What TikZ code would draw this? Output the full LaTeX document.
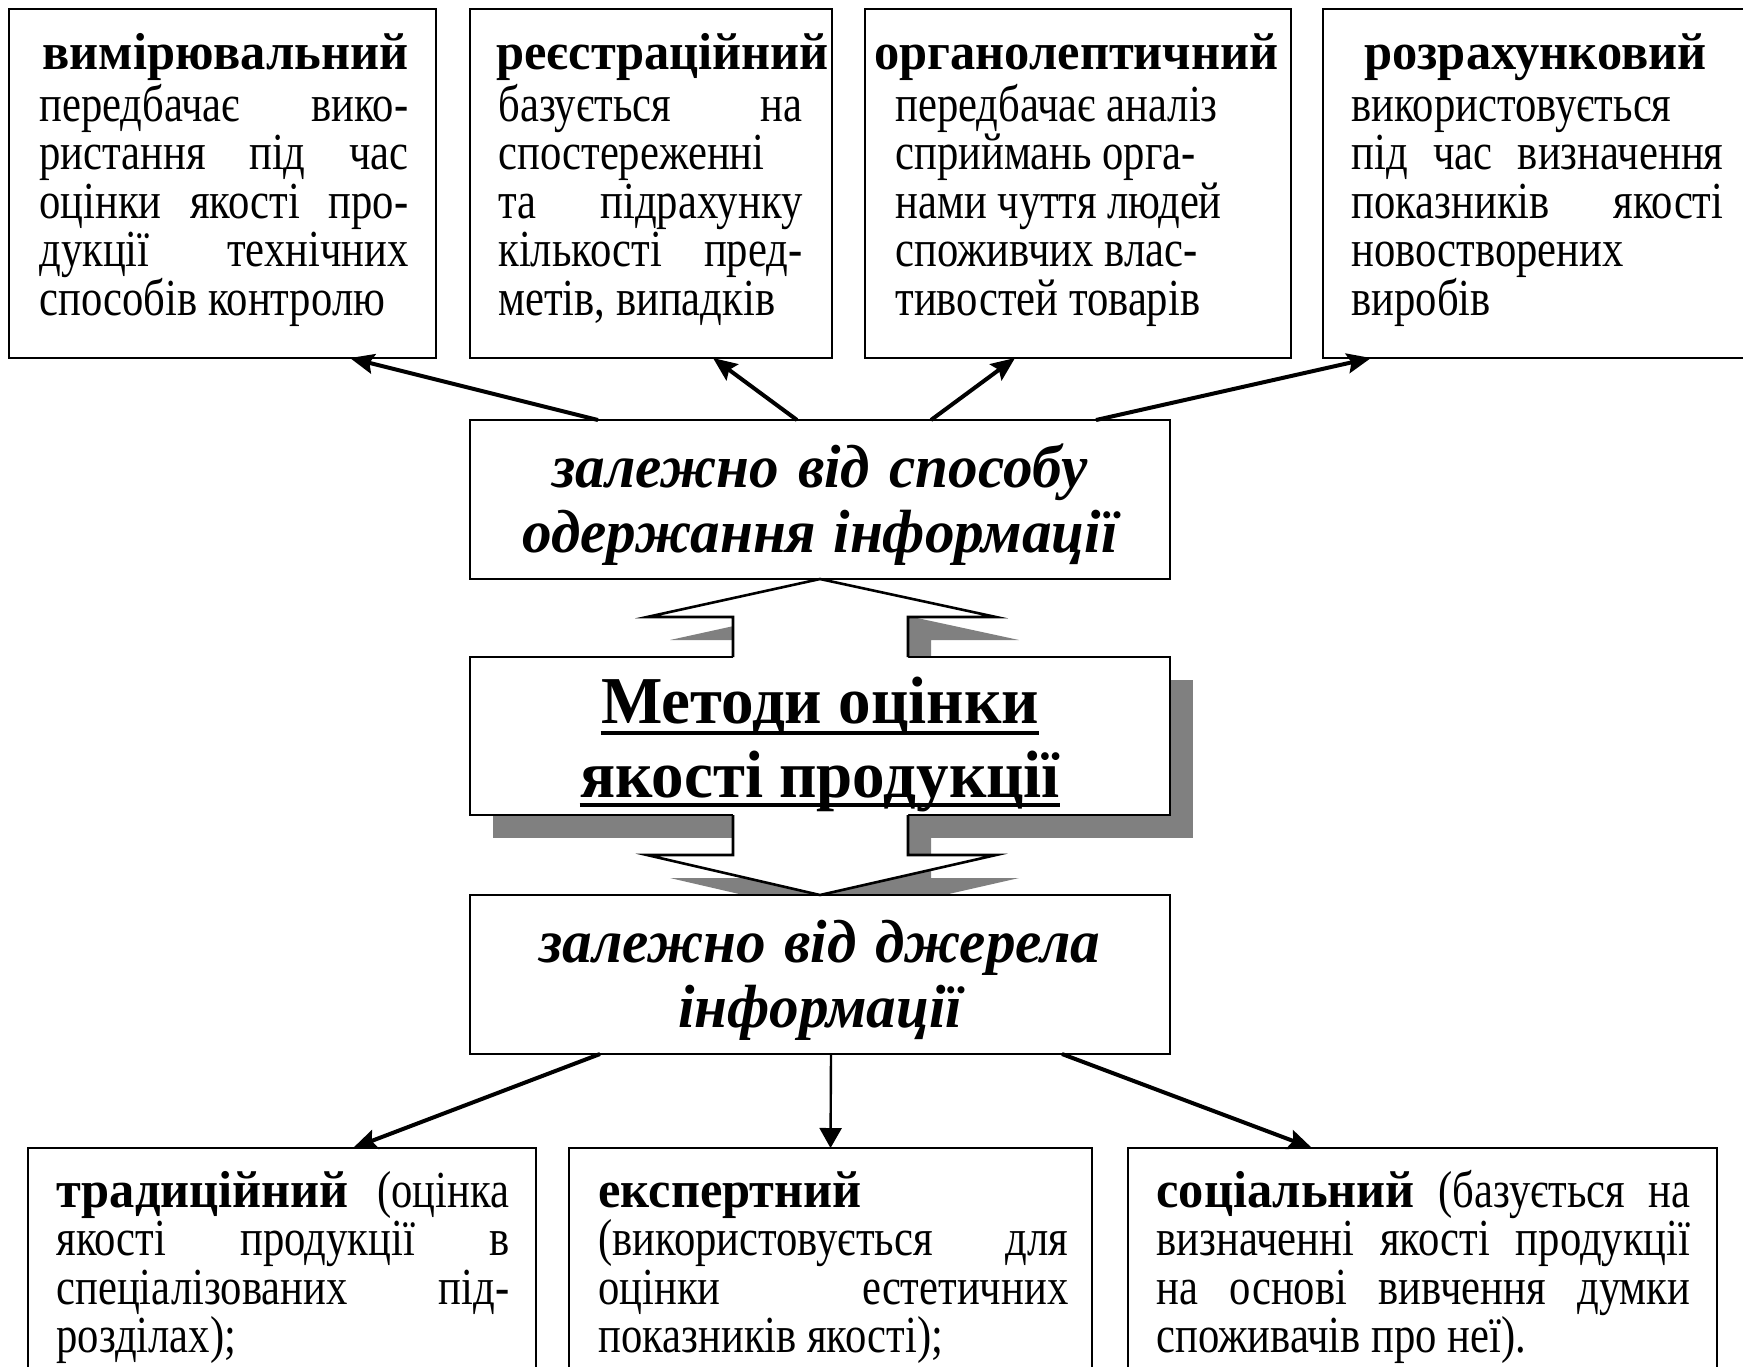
\documentclass[tikz,border=0pt]{standalone}
\usepackage{fontspec}
\setmainfont{Liberation Serif}[UprightFeatures={FakeStretch=0.82}, ItalicFeatures={FakeStretch=0.82}, BoldFeatures={FakeStretch=0.97}, BoldItalicFeatures={FakeStretch=0.97}]
\usetikzlibrary{arrows.meta,calc}
\newcommand\ns{\spaceskip=0pt\xspaceskip=0pt\relax}
\newcommand\jl[1]{\makebox[\hsize][s]{\ns #1}}
\begin{document}
\begin{tikzpicture}[x=0.5pt,y=-0.5pt,
  box/.style={draw, line width=1.3pt, fill=white, anchor=north west, inner sep=0pt, outer sep=0pt},
  shadow/.style={fill=black!50},
  blk/.style={line width=1.3pt, line join=miter},
  ttl/.style={anchor=base west, inner sep=0pt, font=\fontsize{26}{26}\selectfont\bfseries},
  txt/.style={anchor=base west, inner sep=0pt, align=left, font=\fontsize{26}{24.3}\selectfont},
  big/.style={anchor=base, inner sep=0pt, align=center, text width=340pt, font=\fontsize{30.5}{32.5}\selectfont\bfseries\itshape},
  ttlmain/.style={anchor=base, inner sep=0pt, font=\fontsize{33.5}{36}\selectfont\bfseries},
  arr/.style={line width=2pt, -{Stealth[length=12pt,width=10pt,inset=2pt]}},
  thinarr/.style={line width=1.2pt, -{Triangle[length=10pt,width=11pt]}}]
\useasboundingbox (0,0) rectangle (1743,1366);
\clip (0,0) rectangle (1743,1366);
% shadows
\fill[shadow] (493,680) rectangle (1193,838);
\fill[shadow] (756,681) -- (756,640) -- (670,640) -- (843,602) -- (1019,640) -- (931,640) -- (931,681) -- cycle;
\fill[shadow] (756,836) -- (756,878) -- (670,878) -- (843,918) -- (1019,878) -- (931,878) -- (931,836) -- cycle;
% boxes
\node[box, minimum width=213.5pt, minimum height=174.5pt] (t1) at (9,9) {};
\node[box, minimum width=181pt, minimum height=174.5pt] (t2) at (470,9) {};
\node[box, minimum width=213pt, minimum height=174.5pt] (t3) at (865,9) {};
\node[box, minimum width=230pt, minimum height=174.5pt] (t4) at (1323,9) {};
\node[box, minimum width=350pt, minimum height=79.5pt] (mid) at (470,420) {};
\node[box, minimum width=350pt, minimum height=79pt] (main) at (470,657) {};
\node[box, minimum width=350pt, minimum height=79.5pt] (src) at (470,895) {};
\node[box, minimum width=254pt, minimum height=150pt] (b1) at (28,1148) {};
\node[box, minimum width=261.5pt, minimum height=150pt] (b2) at (569,1148) {};
\node[box, minimum width=294.5pt, minimum height=150pt] (b3) at (1128,1148) {};
% block arrows
\fill[white] (733,661) -- (733,617) -- (647,617) -- (820,579) -- (996,617) -- (908,617) -- (908,661) -- cycle;
\draw[blk] (733,657) -- (733,617) -- (647,617) -- (820,579) -- (996,617) -- (908,617) -- (908,657);
\fill[white] (733,811) -- (733,855) -- (647,855) -- (820,895) -- (996,855) -- (908,855) -- (908,811) -- cycle;
\draw[blk] (733,815) -- (733,855) -- (647,855) -- (820,895) -- (996,855) -- (908,855) -- (908,815);
% top texts
\node[ttl] (t1h) at (42,69) {вимірювальний};
\node[txt, text width=184.5pt] (t1b) at (39,121) {\ns\jl{передбачає вико-}\\ \jl{ристання під час}\\ \jl{оцінки якості про-}\\ \jl{дукції технічних}\\ способів контролю};
\node[ttl] (t2h) at (496,69) {реєстраційний};
\node[txt, text width=152pt] (t2b) at (498,121) {\ns\jl{базується на}\\ спостереженні\\ \jl{та підрахунку}\\ \jl{кількості пред-}\\ метів, випадків};
\node[ttl] (t3h) at (874,69) {органолептичний};
\node[txt, text width=200pt] (t3b) at (895,121) {\ns передбачає аналіз\\ сприймань орга-\\ нами чуття людей\\ споживчих влас-\\ тивостей товарів};
\node[ttl] (t4h) at (1364,69) {розрахунковий};
\node[txt, text width=186pt] (t4b) at (1351,121) {\ns використовується\\ \jl{під час визначення}\\ \jl{показників якості}\\ новостворених\\ виробів};
% middle texts
\node[big] (midt) at (820,487) {\ns залежно від способу\\ одержання інформації};
\node[ttlmain] (m1) at (820,723) {Методи оцінки};
\node[ttlmain] (m2) at (820,797) {якості продукції};
\draw[line width=1.8pt] ([yshift=-5pt]m1.base west) -- ([yshift=-5pt]m1.base east);
\draw[line width=1.8pt] ([yshift=-4pt]m2.base west) -- ([yshift=-4pt]m2.base east);
\node[big] (srct) at (820,962) {\ns залежно від джерела\\ інформації};
% bottom texts
\node[txt, text width=226.5pt] (b1t) at (56,1207) {\ns\jl{\textbf{традиційний} (оцінка}\\ \jl{якості продукції в}\\ \jl{спеціалізованих під-}\\ розділах);};
\node[txt, text width=235pt] (b2t) at (598,1207) {\ns\textbf{експертний}\\ \jl{(використовується для}\\ \jl{оцінки естетичних}\\ показників якості);};
\node[txt, text width=267pt] (b3t) at (1156,1207) {\ns\jl{\textbf{соціальний} (базується на}\\ \jl{визначенні якості продукції}\\ \jl{на основі вивчення думки}\\ споживачів про неї).};
% connectors
\draw[arr] ($(mid.north west)+(128,0)$) -- ($(t1.south west)+(341,0)$);
\draw[arr] ($(mid.north west)+(327,0)$) -- ($(t2.south west)+(243,0)$);
\draw[arr] ($(mid.north west)+(461,0)$) -- ($(t3.south west)+(150,0)$);
\draw[arr] ($(mid.north west)+(626,0)$) -- ($(t4.south west)+(48,0)$);
\draw[arr] ($(src.south west)+(130,0)$) -- ($(b1.north west)+(325,0)$);
\draw[thinarr] ($(src.south west)+(361,0)$) -- (b2.north);
\draw[arr] ($(src.south west)+(592,0)$) -- ($(b3.north west)+(184,0)$);
\end{tikzpicture}
\end{document}
